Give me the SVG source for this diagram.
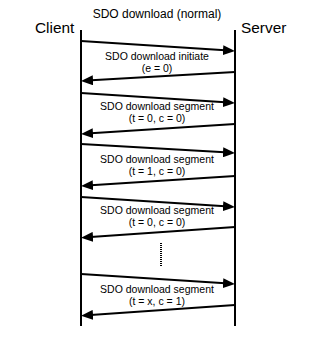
<svg xmlns="http://www.w3.org/2000/svg" width="313" height="337" viewBox="0 0 313 337">
<style>
text{font-family:"Liberation Sans",Arial,sans-serif;fill:#000}
.lbl{font-size:10.5px;text-anchor:middle}
.life{stroke:#000;stroke-width:2;fill:none}
.msg{stroke:#000;stroke-width:2;fill:none;marker-end:url(#ah)}
</style>
<defs>
<marker id="ah" markerUnits="userSpaceOnUse" markerWidth="12" markerHeight="10" refX="6" refY="5" orient="auto">
<path d="M0,0 L12,5 L0,10 z" fill="#000"/>
</marker>
</defs>
<rect width="313" height="337" fill="#fff"/>
<text x="157" y="18" font-size="12" text-anchor="middle">SDO download (normal)</text>
<g id="client">
<text x="35" y="33" font-size="15.4">Client</text>
<line class="life" x1="81" y1="30" x2="81" y2="326"/>
</g>
<g id="server">
<text x="241" y="33" font-size="15.4">Server</text>
<line class="life" x1="235" y1="30" x2="235" y2="326"/>
</g>
<g id="connectors">
<line class="msg" x1="81" y1="41" x2="229" y2="50.6"/>
<line class="msg" x1="235" y1="72" x2="87" y2="80.6"/>
<line class="msg" x1="81" y1="93" x2="229" y2="102.6"/>
<line class="msg" x1="235" y1="124" x2="87" y2="133.6"/>
<line class="msg" x1="81" y1="144" x2="229" y2="152.6"/>
<line class="msg" x1="235" y1="176" x2="87" y2="185.6"/>
<line class="msg" x1="81" y1="197" x2="229" y2="206.6"/>
<line class="msg" x1="235" y1="227" x2="87" y2="237.3"/>
<line x1="161" y1="243" x2="161" y2="267" stroke="#000" stroke-width="2" stroke-dasharray="1,1"/>
<line class="msg" x1="81" y1="274" x2="229" y2="283.6"/>
<line class="msg" x1="235" y1="305" x2="87" y2="315.3"/>
</g>
<g id="labels">
<text class="lbl" x="157" y="60">SDO download initiate</text>
<text class="lbl" x="157" y="72">(e = 0)</text>
<text class="lbl" x="157" y="110">SDO download segment</text>
<text class="lbl" x="157" y="122">(t = 0, c = 0)</text>
<text class="lbl" x="157" y="163">SDO download segment</text>
<text class="lbl" x="157" y="175">(t = 1, c = 0)</text>
<text class="lbl" x="157" y="214">SDO download segment</text>
<text class="lbl" x="157" y="226">(t = 0, c = 0)</text>
<text class="lbl" x="157" y="293">SDO download segment</text>
<text class="lbl" x="157" y="305">(t = x, c = 1)</text>
</g>
</svg>
